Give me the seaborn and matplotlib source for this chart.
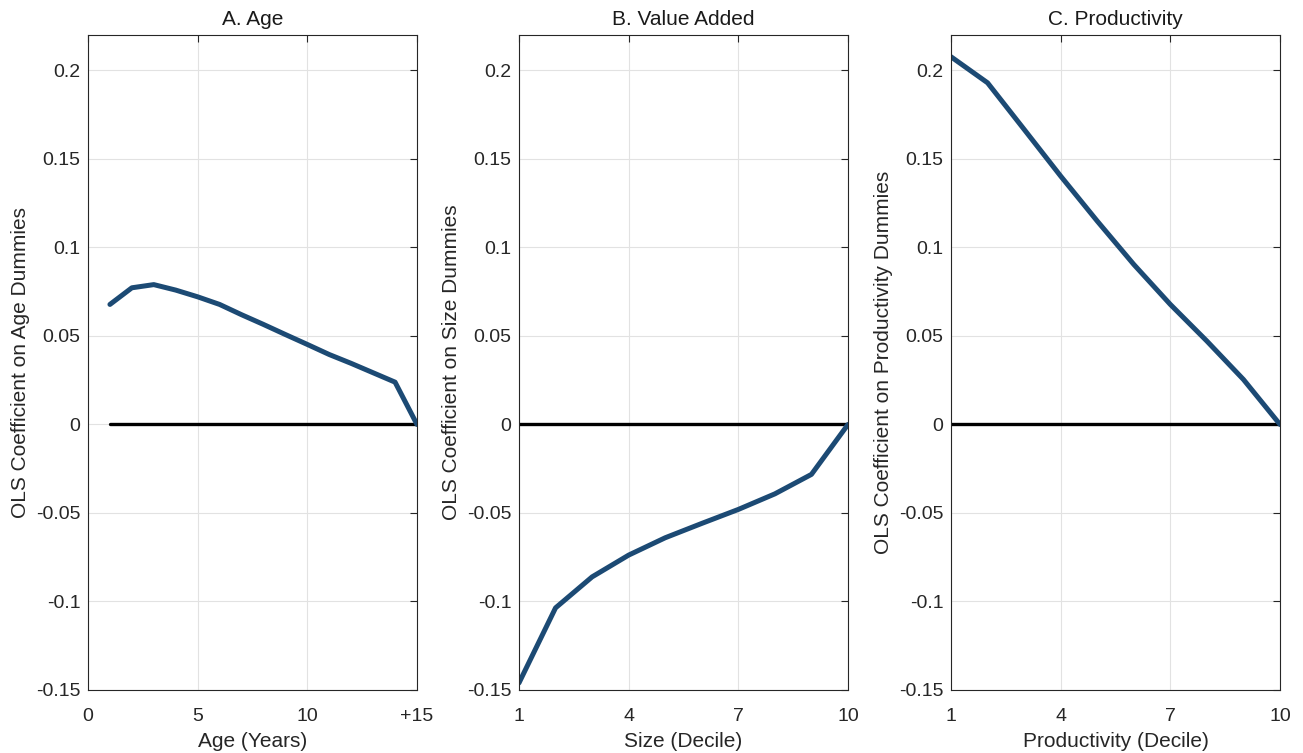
import numpy as np
import pandas as pd
import matplotlib
matplotlib.use("Agg")
import matplotlib.pyplot as plt
import seaborn as sns

# coefficients
age_years = list(range(1, 16))
age_coef = [0.0678, 0.0772, 0.0790, 0.0759, 0.0721, 0.0678, 0.0620, 0.0565,
            0.0508, 0.0452, 0.0395, 0.0345, 0.0292, 0.0239, 0.0]

size_decile = list(range(1, 11))
size_coef = [-0.146, -0.1036, -0.0861, -0.0738, -0.0640, -0.0559, -0.0480,
             -0.0392, -0.0282, 0.0]

prod_decile = list(range(1, 11))
prod_coef = [0.2077, 0.1930, 0.1667, 0.1403, 0.1149, 0.0904, 0.0678,
             0.0471, 0.0254, 0.0]

titles = ["A. Age", "B. Value Added", "C. Productivity"]
xlabels = ["Age (Years)", "Size (Decile)", "Productivity (Decile)"]
ylabels = ["OLS Coefficient on Age Dummies", "OLS Coefficient on Size Dummies",
           "OLS Coefficient on Productivity Dummies"]
yticks = [-0.15, -0.1, -0.05, 0, 0.05, 0.1, 0.15, 0.2]
ytick_labels = ["-0.15", "-0.1", "-0.05", "0", "0.05", "0.1", "0.15", "0.2"]

sns.set_style("white")
plt.rcParams["font.family"] = ["Liberation Sans", "DejaVu Sans"]
plt.rcParams["xtick.direction"] = "in"
plt.rcParams["ytick.direction"] = "in"

blue = "#1c4a74"
fig = plt.figure(figsize=(13.03, 7.53), dpi=100)
lefts = [88 / 1303, 519 / 1303, 951 / 1303]
w = 329 / 1303
bottom = 63 / 753
h = 655 / 753

panels = [
    (age_years, age_coef, (0, 15), [0, 5, 10, 15], ["0", "5", "10", "+15"], (1, 15)),
    (size_decile, size_coef, (1, 10), [1, 4, 7, 10], ["1", "4", "7", "10"], (1, 10)),
    (prod_decile, prod_coef, (1, 10), [1, 4, 7, 10], ["1", "4", "7", "10"], (1, 10)),
]

for i, (x, y, xlim, xt, xtl, zero_span) in enumerate(panels):
    ax = fig.add_axes([lefts[i], bottom, w, h])
    df = pd.DataFrame({"x": x, "coef": y})
    ax.grid(True, color="#e2e2e2", linewidth=0.8)
    ax.set_axisbelow(True)
    sns.lineplot(x=list(zero_span), y=[0, 0], color="black", linewidth=2.4, ax=ax)
    sns.lineplot(data=df, x="x", y="coef", color=blue, linewidth=3.6, ax=ax)
    ax.set_xlim(*xlim)
    ax.set_ylim(-0.15, 0.22)
    ax.set_xticks(xt)
    ax.set_xticklabels(xtl)
    ax.set_yticks(yticks)
    ax.set_yticklabels(ytick_labels)
    ax.tick_params(axis="both", which="both", top=True, right=True, length=5,
                   width=0.8, color="#262626", labelsize=14, labelcolor="#262626")
    ax.tick_params(axis="x", pad=13)
    ax.tick_params(axis="y", pad=5.5)
    for s in ax.spines.values():
        s.set_color("#262626")
        s.set_linewidth(0.8)
    ax.set_title(titles[i], fontsize=15, color="#1a1a1a", pad=7)
    ax.set_xlabel(xlabels[i], fontsize=15, color="#262626", labelpad=5)
    ax.set_ylabel(ylabels[i], fontsize=15, color="#262626", labelpad=4)

fig.savefig("out.png", dpi=100)
